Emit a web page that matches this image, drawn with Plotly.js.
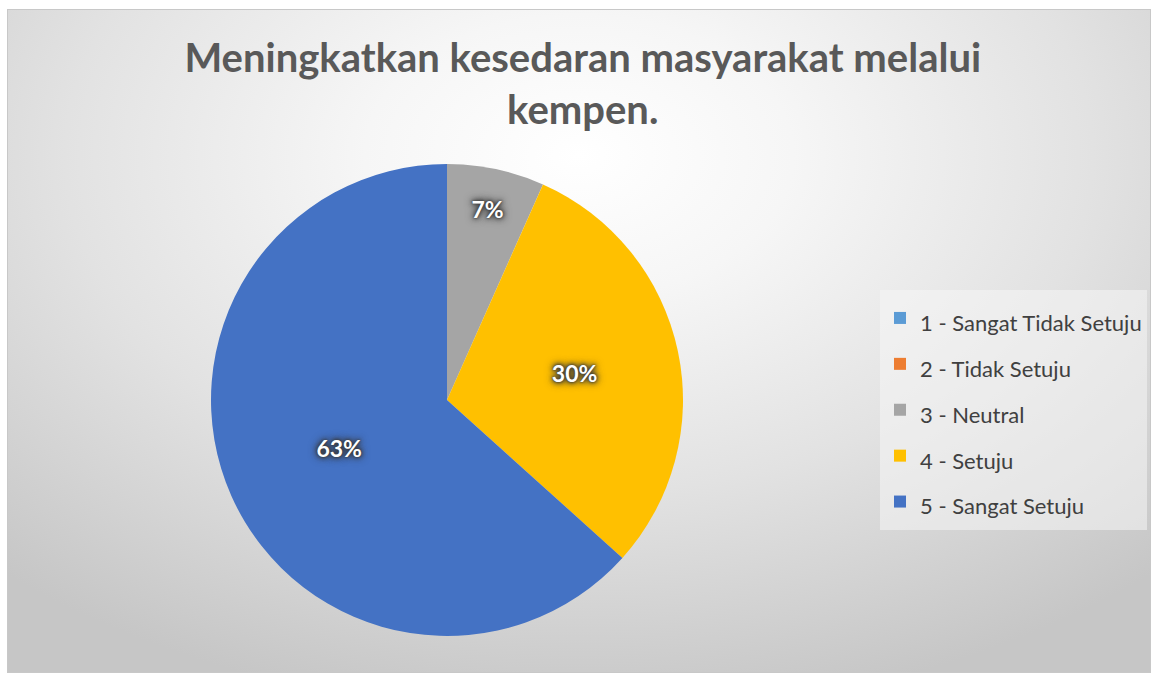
<!DOCTYPE html>
<html>
<head>
<meta charset="utf-8">
<script src="https://cdn.plot.ly/plotly-3.0.1.min.js"></script>
<style>
  html, body { margin: 0; padding: 0; background: #ffffff; }
  #frame {
    position: absolute; left: 7px; top: 9px; width: 1142px; height: 662px;
    border: 1px solid #c8c8c8;
    background: radial-gradient(ellipse 75% 85% at 50% 22%, #ffffff 0%, #f6f6f6 25%, #e2e2e2 60%, #c6c6c6 100%);
  }
  #chart { position: absolute; left: 0; top: 0; width: 1154px; height: 677px; }
</style>
</head>
<body>
<div id="frame"></div>
<div id="chart"></div>
<script>
const categories = ["1 - Sangat Tidak Setuju", "2 - Tidak Setuju", "3 - Neutral", "4 - Setuju", "5 - Sangat Setuju"];
const counts = [0, 0, 2, 9, 19];
const colors = ["#5B9BD5", "#ED7D31", "#A5A5A5", "#FFC000", "#4472C4"];
const titleText = "Meningkatkan kesedaran masyarakat melalui<br>kempen.";

const W = 1154, H = 677;
const cx = 447, cy = 400, r = 236;

const legendLabels = categories.map(c => '<span style="font-size:22px">' + c + '</span>');

const trace = {
  type: "pie",
  labels: legendLabels,
  values: counts,
  sort: false,
  direction: "clockwise",
  rotation: 0,
  marker: { colors: colors, line: { width: 0 } },
  textinfo: "percent",
  texttemplate: "%{percent:.0%}",
  textposition: "inside",
  insidetextorientation: "horizontal",
  textfont: { family: "Lato, 'Open Sans', sans-serif", size: 23, color: "#ffffff", weight: "bold",
              shadow: "0 0 2px #3a3a3a, 0 0 4px #3a3a3a, 0 0 6px #3a3a3a, 0 0 10px #3a3a3a" },
  hoverinfo: "percent",
  domain: { x: [(cx - r) / W, (cx + r) / W], y: [(H - cy - r) / H, (H - cy + r) / H] },
  showlegend: true
};

const layout = {
  width: W, height: H,
  paper_bgcolor: "rgba(0,0,0,0)",
  plot_bgcolor: "rgba(0,0,0,0)",
  margin: { l: 0, r: 0, t: 0, b: 0 },
  title: {
    text: titleText,
    font: { family: "Lato, 'Open Sans', sans-serif", size: 40, color: "#595959", weight: "bold" },
    x: 0.505, xanchor: "center",
    y: 1 - 72 / H, yanchor: "top"
  },
  legend: {
    x: 880 / W, xanchor: "left",
    y: 1 - 290 / H, yanchor: "top",
    bgcolor: "rgba(245,245,245,0.55)",
    font: { family: "Lato, 'Open Sans', sans-serif", size: 33, color: "#404040" },
    itemwidth: 30,
    traceorder: "normal"
  }
};

Plotly.newPlot("chart", [trace], layout, { displayModeBar: false, staticPlot: true });
</script>
</body>
</html>
